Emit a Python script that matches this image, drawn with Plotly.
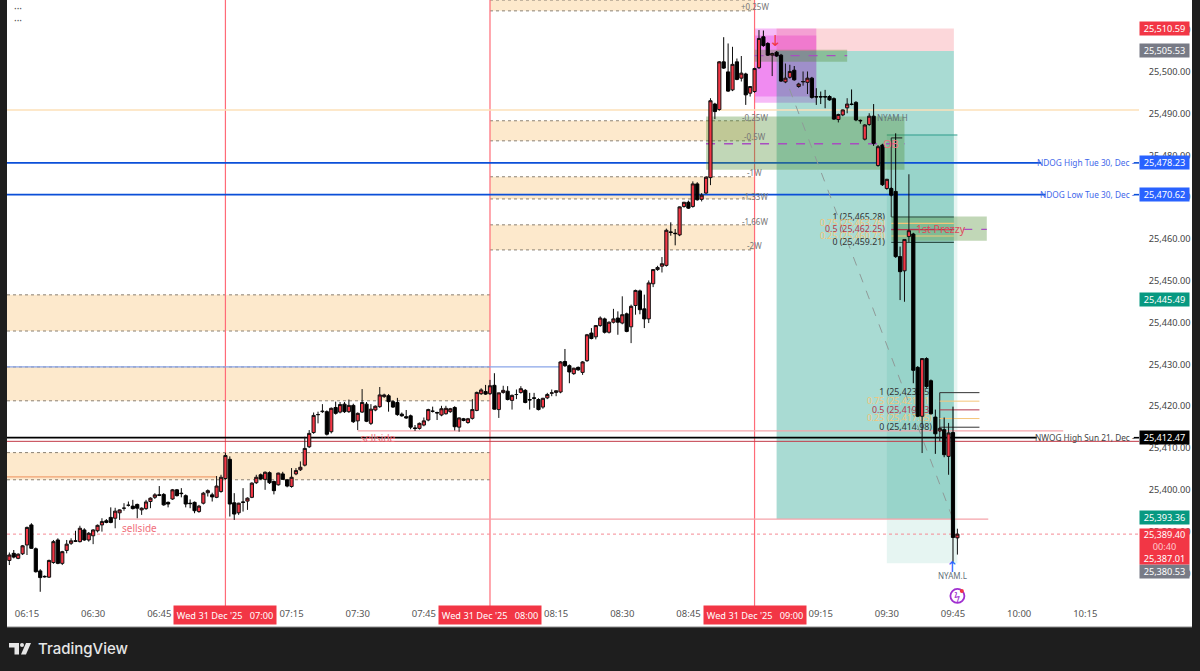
import pandas as pd
import plotly.graph_objects as go

OPEN = [
25383.1,25384.8,25383.6,25384.7,25386.8,25391.6,25385.9,25380.6,25379.3,25379.1,
25382.6,25388.0,25382.4,25385.5,25387.2,25387.8,25387.6,25390.4,25388.0,25389.0,
25390.2,25391.6,25392.6,25393.4,25393.2,25394.5,25395.6,25396.3,25396.1,25396.5,
25395.2,25395.5,25397.2,25398.2,25398.8,25398.9,25397.0,25397.8,25400.0,25399.2,
25398.6,25396.8,25397.0,25394.8,25396.8,25399.3,25398.8,25398.2,25399.6,25402.7,
25407.3,25396.9,25394.5,25397.1,25397.3,25398.2,25401.7,25403.6,25402.5,25404.1,
25402.0,25401.2,25403.8,25402.4,25400.8,25403.8,25404.8,25405.9,25410.3,25413.7,
25418.0,25418.7,25418.7,25413.9,25419.7,25418.6,25420.5,25418.7,25420.2,25416.5,
25418.6,25420.5,25415.9,25419.1,25419.9,25422.3,25422.5,25421.1,25420.9,25418.1,
25417.5,25417.7,25414.8,25414.7,25415.5,25416.7,25418.8,25418.5,25417.9,25418.2,
25418.7,25419.7,25415.0,25417.0,25416.1,25417.1,25419.0,25423.0,25423.5,25423.0,
25425.0,25419.2,25423.3,25423.6,25421.4,25422.8,25423.3,25423.8,25421.6,25422.0,
25421.6,25419.8,25422.0,25423.1,25423.3,25423.4,25430.7,25429.7,25427.8,25429.3,
25428.1,25430.9,25437.5,25436.6,25439.3,25440.9,25437.7,25440.1,25441.1,25439.9,
25442.1,25439.0,25444.1,25447.6,25443.3,25440.9,25449.3,25452.7,25453.5,25453.7,
25461.7,25461.4,25461.0,25467.8,25468.8,25467.8,25473.2,25469.5,25471.0,25474.7,
25492.3,25491.0,25502.4,25500.0,25495.7,25502.4,25498.5,25499.5,25494.9,25495.3,
25501.0,25508.4,25506.8,25504.0,25504.7,25504.0,25497.6,25498.7,25500.4,25496.5,
25497.6,25497.5,25498.5,25494.1,25494.1,25494.1,25494.1,25493.6,25488.6,25489.7,
25491.4,25492.3,25492.7,25488.4,25483.9,25487.4,25489.4,25477.6,25482.5,25472.1,
25472.1,25471.4,25455.8,25452.4,25460.6,25461.2,25429.3,25417.6,25431.4,25426.1,
25417.4,25414.1,25414.4,25408.0,25413.7,25388.5]
HIGH = [
25385.0,25385.6,25384.8,25386.8,25391.2,25392.0,25386.2,25381.0,25379.5,25383.3,
25388.0,25388.4,25385.4,25388.0,25388.4,25390.2,25391.4,25390.8,25389.9,25390.6,
25391.7,25393.2,25393.0,25395.8,25395.7,25395.3,25396.8,25397.2,25397.6,25396.7,
25395.8,25397.6,25398.2,25399.2,25400.9,25399.2,25397.2,25400.2,25400.2,25400.4,
25398.9,25397.7,25397.2,25396.4,25399.5,25400.1,25399.3,25403.3,25403.6,25408.9,
25408.0,25399.2,25396.9,25400.4,25398.2,25401.8,25403.6,25403.9,25404.4,25404.4,
25402.2,25404.1,25404.3,25402.6,25405.2,25405.2,25406.8,25412.7,25414.3,25418.5,
25418.7,25420.5,25419.0,25419.7,25421.1,25421.0,25421.0,25421.6,25420.6,25418.5,
25424.1,25421.0,25420.5,25420.2,25424.6,25423.0,25422.9,25421.4,25422.0,25418.5,
25419.1,25418.0,25415.5,25416.1,25417.3,25419.4,25419.9,25418.7,25420.1,25420.1,
25419.6,25420.0,25417.3,25417.2,25417.2,25421.7,25423.5,25424.3,25425.1,25426.3,
25427.9,25423.2,25424.9,25424.8,25422.8,25424.0,25424.8,25424.1,25423.2,25423.2,
25421.9,25422.0,25423.2,25424.0,25423.8,25430.8,25433.7,25430.0,25429.2,25429.5,
25430.8,25437.3,25438.7,25439.4,25441.5,25441.2,25440.3,25443.3,25442.7,25446.3,
25442.4,25444.3,25447.9,25447.9,25446.7,25450.1,25452.8,25453.6,25455.7,25462.5,
25464.0,25462.4,25467.8,25468.9,25469.2,25473.8,25473.6,25471.0,25475.0,25493.7,
25492.6,25502.6,25508.3,25506.8,25506.0,25503.2,25503.8,25499.8,25496.6,25501.0,
25510.0,25509.9,25507.1,25504.6,25505.0,25504.3,25502.0,25501.7,25501.4,25497.4,
25500.1,25500.1,25498.8,25496.1,25495.3,25495.7,25494.4,25493.9,25490.0,25491.0,
25493.7,25495.8,25493.0,25488.6,25487.5,25490.1,25492.3,25482.5,25482.8,25474.4,
25472.4,25485.3,25458.2,25459.9,25475.5,25461.5,25429.6,25431.5,25431.7,25426.4,
25419.2,25415.0,25417.3,25416.0,25419.9,25390.7]
LOW = [
25382.0,25383.6,25383.4,25384.4,25384.4,25385.9,25380.2,25375.6,25379.0,25378.9,
25382.3,25382.2,25382.0,25384.8,25386.8,25387.5,25387.4,25387.8,25387.6,25387.0,
25389.8,25390.0,25392.0,25392.0,25390.8,25392.8,25395.0,25396.0,25395.3,25393.2,
25394.0,25395.2,25395.6,25397.8,25398.5,25396.2,25395.8,25397.6,25398.4,25398.2,
25395.8,25395.6,25394.4,25394.5,25396.5,25398.4,25397.2,25398.0,25399.3,25402.4,
25393.6,25392.8,25394.0,25394.8,25395.2,25398.0,25401.4,25402.4,25400.0,25401.4,
25398.9,25401.0,25402.4,25400.6,25400.5,25403.5,25404.5,25405.6,25410.0,25413.4,
25415.9,25418.4,25413.0,25413.5,25418.0,25418.3,25418.4,25418.4,25416.0,25414.3,
25418.4,25416.2,25415.5,25418.8,25419.6,25422.0,25418.7,25419.6,25417.7,25417.5,
25417.0,25414.5,25414.1,25414.4,25415.2,25416.4,25418.5,25416.7,25417.6,25418.0,
25418.4,25414.2,25413.9,25416.4,25415.8,25416.8,25418.8,25422.7,25422.7,25422.7,
25419.2,25417.2,25423.0,25421.4,25419.2,25421.7,25423.0,25420.7,25419.2,25419.6,
25419.0,25419.4,25421.7,25422.4,25422.4,25423.1,25429.4,25425.5,25427.5,25428.5,
25427.5,25430.6,25436.0,25436.0,25439.0,25437.4,25437.4,25439.8,25437.1,25439.6,
25437.7,25435.1,25441.9,25442.0,25438.7,25439.9,25448.5,25452.4,25452.0,25453.4,
25460.8,25458.5,25460.7,25467.5,25467.2,25467.5,25469.2,25469.0,25470.8,25472.9,
25488.7,25490.7,25500.7,25495.2,25495.4,25498.0,25497.7,25492.1,25494.1,25495.0,
25500.7,25506.0,25503.8,25499.0,25503.6,25497.6,25497.3,25498.4,25497.9,25496.2,
25496.7,25494.7,25493.6,25492.1,25492.3,25491.3,25493.1,25488.5,25487.9,25489.4,
25490.1,25492.0,25488.2,25487.6,25483.6,25487.1,25482.3,25477.3,25472.7,25471.8,
25470.2,25455.5,25445.4,25445.0,25459.2,25425.5,25417.4,25408.8,25424.4,25418.0,
25408.6,25413.8,25407.8,25403.6,25382.8,25384.5]
CLOSE = [
25384.4,25383.9,25384.6,25386.6,25391.0,25386.0,25380.4,25379.0,25379.2,25383.1,
25387.6,25382.4,25385.2,25387.0,25387.8,25387.7,25390.8,25388.0,25389.6,25390.4,
25391.5,25392.4,25392.2,25392.2,25394.9,25395.2,25395.6,25396.3,25395.5,25395.6,
25395.6,25397.1,25398.0,25398.8,25398.7,25396.4,25396.6,25400.0,25398.6,25399.1,
25396.6,25396.7,25395.0,25396.1,25399.2,25399.8,25398.3,25400.9,25403.0,25408.2,
25396.6,25394.2,25396.8,25397.0,25398.0,25401.6,25403.0,25402.6,25404.2,25401.7,
25399.8,25404.0,25402.5,25400.9,25403.0,25404.6,25405.4,25409.9,25413.5,25417.8,
25418.0,25418.8,25413.3,25419.5,25418.3,25420.4,25418.7,25420.2,25416.3,25418.3,
25420.9,25416.4,25419.3,25420.0,25422.7,25422.7,25421.1,25419.8,25418.0,25417.7,
25417.2,25415.0,25414.7,25415.9,25416.5,25419.2,25418.8,25418.4,25419.4,25419.5,
25419.4,25415.1,25417.2,25416.6,25417.0,25419.2,25423.3,25423.9,25422.9,25424.9,
25419.3,25423.2,25423.8,25421.6,25422.6,25422.8,25424.2,25420.9,25421.5,25421.9,
25419.2,25421.9,25422.8,25423.2,25423.7,25430.6,25429.7,25428.2,25429.1,25428.7,
25430.6,25437.1,25436.2,25439.3,25441.1,25437.7,25440.1,25440.9,25440.1,25441.9,
25437.9,25443.9,25447.7,25443.1,25440.9,25449.5,25452.7,25453.2,25454.1,25462.1,
25461.6,25461.3,25467.7,25468.8,25467.4,25473.2,25469.4,25470.5,25474.8,25493.1,
25490.5,25502.4,25500.9,25495.4,25501.8,25498.2,25499.7,25494.5,25496.5,25500.8,
25508.0,25506.3,25504.0,25504.4,25503.8,25497.8,25498.5,25500.1,25498.1,25497.1,
25497.7,25498.5,25493.9,25494.0,25494.0,25494.0,25493.3,25488.7,25489.8,25490.9,
25492.3,25492.2,25488.5,25488.3,25487.3,25489.4,25482.9,25482.1,25473.0,25474.3,
25470.5,25455.8,25452.2,25459.9,25462.0,25428.6,25417.6,25431.4,25424.7,25418.2,
25413.4,25414.7,25408.4,25413.6,25388.6,25389.4]

D = "2025-12-31 "
TIMES = pd.date_range(D + "06:11", periods=len(OPEN), freq="min")
Y_RANGE = [25372.2, 25517.2]
TICK_TIMES = ["06:15","06:30","06:45","07:15","07:30","07:45","08:15","08:30","08:45","09:15","09:30","09:45","10:00","10:15"]
SESSION_TIMES = ["07:00", "08:00", "09:00"]
SESSION_LABEL = "Wed 31 Dec '25\u00a0\u00a0\u00a0"

# zones: start, end, top price, bottom price
ZONE_LEFT = [("06:10:28","08:00",25446.65,25438.0),("06:10:28","08:00",25429.4,25421.3),("06:10:28","08:00",25408.9,25402.4)]
ZONE_RIGHT = [("08:00","09:00",25517.2,25514.6),("08:00","09:00",25488.3,25483.5),("08:00","09:00",25474.9,25469.6),("08:00","09:00",25463.4,25457.4)]
W_LABELS = [("+0.25W",25515.6),("-0.25W",25489.1),("-0.5W",25484.6),("-1W",25475.9),("-1.33W",25470.2),("-1.66W",25464.3),("-2W",25458.5)]
NDOG_HIGH, NDOG_LOW, NWOG_HIGH = 25478.23, 25470.62, 25412.47
PRICE_TAGS = [("25,510.59","#f23645",25510.4),("25,505.53","#787b86",25505.0),("25,478.23","#2962ff",25478.23),
              ("25,470.62","#2962ff",25470.62),("25,445.49","#089981",25445.49),("25,412.47","#000000",25412.47),
              ("25,393.36","#089981",25393.36),("25,380.53","#787b86",25380.4)]
FIB1 = [("1 (25,465.28)",25465.28,"#333333"),("0.75 (25,463.76)",25463.76,"#f5c578"),("0.5 (25,462.25)",25462.25,"#b5364a"),("0.25 (25,460.73)",25460.73,"#f5c578"),("0 (25,459.21)",25459.21,"#333333")]
FIB2 = [("1 (25,423.25)",25423.25,"#333333"),("0.75 (25,421.21)",25421.21,"#f5c578"),("0.5 (25,419.13)",25419.13,"#b5364a"),("0.25 (25,417.05)",25417.05,"#f5c578"),("0 (25,414.98)",25414.98,"#333333")]

FONT = "Noto Sans"
L, R, PW, PH = 7, 1139, 1132, 606
def t(s): return D + s
def px(x): return (x - L) / PW
def py(y): return 1 - y / PH

shapes, ann = [], []
def rect(x0, x1, y0, y1, fill, line=None):
    shapes.append(dict(type="rect", x0=t(x0), x1=t(x1), y0=y0, y1=y1, fillcolor=fill, layer="below",
                       line=dict(width=1, color=line) if line else dict(width=0)))
def seg(x0, x1, y0, y1, color, width=1, dash="solid"):
    shapes.append(dict(type="line", x0=t(x0), x1=t(x1), y0=y0, y1=y1, layer="below", line=dict(color=color, width=width, dash=dash)))
def text(s, x, y, color, size=10, xanchor="center", **kw):
    ann.append(dict(text=s, x=t(x), y=y, xref="x", yref="y", showarrow=False, xanchor=xanchor, yanchor="middle",
                    font=dict(family=kw.pop("family", FONT), size=size, color=color), **kw))
def back_text(s, x, y, color, size=8.8, anchor="right"):
    shapes.append(dict(type="line", x0=t(x), x1=t(x), y0=y, y1=y, layer="below", line=dict(width=0),
                       label=dict(text=s, textposition="start", xanchor=anchor, yanchor="middle", padding=0, textangle=0,
                                  font=dict(family=FONT, size=size, color=color))))

# chrome
shapes.append(dict(type="rect", xref="paper", yref="paper", x0=0, x1=px(1192), y0=py(627), y1=1, fillcolor="white", line=dict(width=0), layer="below"))
shapes.append(dict(type="line", xref="paper", yref="paper", x0=0, x1=px(1192), y0=py(627), y1=py(627), line=dict(width=1, color="#8a8a8a"), layer="below"))

ZONE = "#fde9cc"; DOT = "#8a8073"
for x0, x1, a, b in ZONE_LEFT + ZONE_RIGHT:
    rect(x0, x1, a, b, ZONE)
    seg(x0, x1, a, a, DOT, 1, "dot")
    seg(x0, x1, b, b, DOT, 1, "dot")

# magenta box (beneath the position box)
rect("09:00", "09:14", 25510.4, 25492.6, "rgba(224,30,230,0.3)")
rect("09:00", "09:14", 25508.7, 25494.1, "rgba(224,30,230,0.3)")

# position boxes
rect("09:05", "09:45:12", 25510.4, 25505.0, "rgba(242,54,69,0.2)")
rect("09:05", "09:45:12", 25505.0, 25393.0, "rgba(8,153,129,0.35)")
rect("09:30", "09:46", 25484.9, 25382.4, "rgba(8,153,129,0.1)")
seg("09:30", "09:46", 25484.9, 25484.9, "#2d9d8b", 1)

# session lines
for s in SESSION_TIMES:
    seg(s, s, Y_RANGE[0], Y_RANGE[1], "#ff6b78", 1.2)

# levels
seg("06:10:28", "10:27:11", 25490.9, 25490.9, "#fde0b8", 1.5)
seg("06:10:28", "10:05", NDOG_HIGH, NDOG_HIGH, "#0b4fd8", 1.6)
seg("06:10:28", "10:06", NDOG_LOW, NDOG_LOW, "#0b4fd8", 1.6)
seg("10:26", "10:27:11", NDOG_HIGH, NDOG_HIGH, "#0b4fd8", 1.6)
seg("10:26", "10:27:11", NDOG_LOW, NDOG_LOW, "#0b4fd8", 1.6)
seg("06:10:28", "10:04", NWOG_HIGH, NWOG_HIGH, "#000000", 1.8)
seg("10:26", "10:27:11", NWOG_HIGH, NWOG_HIGH, "#000000", 1.6)
seg("06:10:28", "10:27:11", 25411.6, 25411.6, "#c23a48", 1)
seg("07:30", "10:10", 25414.1, 25414.1, "#f5a3aa", 1.4)
seg("06:36", "09:53", 25393.0, 25393.0, "#f5a3aa", 1.2)
seg("06:10:28", "10:27:11", 25389.4, 25389.4, "#f58a94", 1, "dot")
seg("06:10:28", "08:16", 25429.4, 25429.4, "#8aa5e8", 1.2)
seg("06:10:28", "06:58", 25403.1, 25403.1, "#f0a070", 1.2)

# imbalances
G = "rgba(76,140,50,0.35)"; P = "#a84ec0"
rect("09:00", "09:21", 25505.3, 25502.4, G)
seg("09:00", "09:21", 25503.9, 25503.9, P, 1.3, "dash")
rect("08:49", "09:34", 25489.3, 25476.6, G)
seg("08:49", "09:34", 25482.8, 25482.8, P, 1.3, "dash")
rect("09:31", "09:52:40", 25465.4, 25459.6, G)
seg("09:31", "09:52:40", 25462.3, 25462.3, P, 1.3, "dash")

# diagonal
seg("09:05", "09:45", 25504.0, 25393.0, "#8f9a98", 1, "dash")

# fibs
seg("09:31", "09:31", 25484.2, 25465.28, "#222222", 1)
seg("09:31", "09:33:30", 25484.2, 25484.2, "#222222", 1)
for lab, p, c in FIB1:
    seg("09:31", "09:45:12", p, p, c if c != "#333333" else "#2f4f47", 1.2)
    back_text(lab, "09:29:34", p, c)
seg("09:42", "09:42", 25423.25, 25411.6, "#222222", 1)
for lab, p, c in FIB2:
    seg("09:42", "09:51", p, p, c, 1)
    back_text(lab, "09:40:13", p, c)

# labels
for lab, p in W_LABELS:
    text(lab, "09:00", p, "#777777", 8)
text("NDOG High Tue 30, Dec -", "10:26:50", NDOG_HIGH, "#3f67ea", 8.3, "right")
text("NDOG Low Tue 30, Dec -", "10:26:50", NDOG_LOW, "#3f67ea", 8.3, "right")
text("NWOG High Sun 21, Dec -", "10:26:50", NWOG_HIGH, "#444444", 8.3, "right")
text("sellside", "06:40:37", 25390.9, "#f0707c", 10)
back_text("sellside", "07:38:30", 25412.2, "#f0707c", 10)
text("NYAM.H", "09:31:20", 25489.2, "#5f6f78", 8)
text("NYAM.L", "09:45", 25379.4, "#5f6f78", 8)
text("OB", "09:31", 25482.8, "#f0707c", 11)
text("1st Prezzy", "09:42:15", 25462.4, "#e0485a", 10.5)
text("↓", "09:04:50", 25507.4, "#f23645", 15, family="DejaVu Sans")
text("↑", "09:45", 25381.6, "#2962ff", 15, family="DejaVu Sans")

# bolt icon
shapes.append(dict(type="circle", xsizemode="pixel", ysizemode="pixel", xanchor=t("09:46"), yanchor=25374.6, x0=-7, x1=7, y0=-7, y1=7, line=dict(color="#a030d0", width=1.8), layer="above"))
shapes.append(dict(type="circle", xsizemode="pixel", ysizemode="pixel", xanchor=t("09:47"), yanchor=25375.8, x0=-2, x1=2, y0=-2, y1=2, fillcolor="#f23645", line=dict(width=0), layer="above"))
text("ϟ", "09:46", 25374.6, "#a030d0", 11)

# price tags
TX = px(1164.5)
TAG = 9.2
for s, c, p in PRICE_TAGS:
    ann.append(dict(text=s, x=TX, y=p, xref="paper", yref="y", showarrow=False, bgcolor=c, width=49, height=13, borderpad=0,
                    font=dict(family=FONT, size=TAG, color="white"), xanchor="center", yanchor="middle"))
ann.append(dict(text="25,389.40<br><span style='color:#ffc9ce'>00:40</span><br>25,387.01", x=TX, y=25386.5, xref="paper", yref="y", showarrow=False,
                bgcolor="#f23645", width=49, height=35, borderpad=0, font=dict(family=FONT, size=TAG, color="white"), xanchor="center", yanchor="middle"))

# session tags
for s in SESSION_TIMES:
    ann.append(dict(text=SESSION_LABEL + s, x=t(s), y=py(615), xref="x", yref="paper", showarrow=False, bgcolor="#f23645", width=102, height=18, borderpad=0,
                    font=dict(family=FONT, size=TAG, color="white"), xanchor="center", yanchor="middle"))

# top-left dots
for yy in (7.5, 20):
    ann.append(dict(text="···", x=px(18), y=py(yy), xref="paper", yref="paper", showarrow=False, font=dict(family=FONT, size=10, color="#555555"), xanchor="center", yanchor="middle"))

# TradingView footer
ann.append(dict(text="TradingView", x=px(36), y=py(648.5), xref="paper", yref="paper", showarrow=False, xanchor="left", yanchor="middle",
                font=dict(family="Inter", size=15, color="#e6e6e6", weight=500)))
def pts(*xy): return " ".join(("M" if i == 0 else "L") + f"{px(a)},{py(b)}" for i, (a, b) in enumerate(xy)) + " Z"
for path in (pts((9,643),(19,643),(19,654.5),(14.5,654.5),(14.5,647.5),(9,647.5)), pts((26,643),(31,643),(26,654.5),(21,654.5))):
    shapes.append(dict(type="path", path=path, xref="paper", yref="paper", fillcolor="#e6e6e6", line=dict(width=0), layer="above"))
shapes.append(dict(type="circle", xref="paper", yref="paper", x0=px(20), x1=px(24), y0=py(647), y1=py(643), fillcolor="#e6e6e6", line=dict(width=0), layer="above"))

fig = go.Figure(go.Candlestick(
    x=TIMES, open=OPEN, high=HIGH, low=LOW, close=CLOSE,
    increasing=dict(fillcolor="#f23645", line=dict(color="#111111", width=1)),
    decreasing=dict(fillcolor="#000000", line=dict(color="#000000", width=1)),
))
fig.update_layout(
    width=1200, height=671, showlegend=False, hovermode=False, boxgap=0.15, boxgroupgap=0.15,
    margin=dict(l=L, r=1200 - R, t=0, b=671 - PH, pad=0),
    paper_bgcolor="#1e1e1e", plot_bgcolor="white",
    shapes=shapes, annotations=ann,
    xaxis=dict(type="date", range=[D + "06:10:28", D + "10:27:11"], rangeslider=dict(visible=False), showgrid=False, zeroline=False,
               tickvals=[t(s) for s in TICK_TIMES], ticktext=TICK_TIMES, ticks="", tickfont=dict(family=FONT, size=9.5, color="#555555")),
    yaxis=dict(side="right", range=Y_RANGE, tick0=25380, dtick=10, tickformat=",.2f", showgrid=False, zeroline=False,
               ticks="outside", ticklen=7, tickcolor="white", tickfont=dict(family=FONT, size=TAG, color="#444444")),
)
fig.write_html("out.html", config=dict(displayModeBar=False), post_script="document.body.style.margin='0';document.body.style.overflow='hidden';")
